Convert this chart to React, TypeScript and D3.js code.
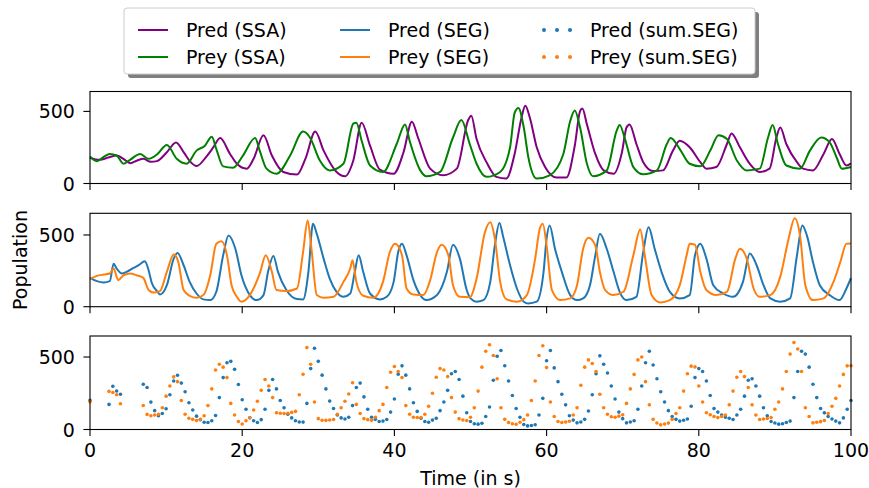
import React from "react";
import * as d3 from "d3";

// ---------------- DATA ----------------
const xTicks = [0, 20, 40, 60, 80, 100];
const yTicks = [0, 500];

const predSSA: [number, number][] = [[0,178],[1.3,164],[2.4,180],[3.5,194],[4.4,170],[5.3,141],[6.2,160],[7.0,171],[8.0,150],[8.8,155],[10.1,217],[11.3,285],[12.3,217],[13.2,150],[14.0,121],[15.3,187],[16.2,250],[17.1,315],[18.4,205],[19.3,137],[20.6,103],[21.5,171],[22.8,335],[23.9,194],[25.4,80],[27.2,62],[28.3,171],[29.6,360],[30.7,228],[32.4,80],[33.5,50],[34.6,160],[35.7,422],[36.8,262],[38.1,96],[39.9,68],[41.2,217],[42.3,429],[43.1,319],[44.7,103],[46.4,57],[48.2,103],[49.7,440],[50.1,470],[50.8,308],[52.1,148],[53.4,46],[54.7,34],[55.8,205],[56.7,456],[57.2,540],[57.8,456],[58.7,251],[59.8,114],[61.3,41],[62.6,41],[63.7,262],[64.4,502],[64.7,520],[65.3,410],[66.4,205],[67.5,91],[68.8,68],[69.9,217],[70.5,388],[70.9,410],[71.8,274],[72.7,148],[74.0,87],[75.3,91],[76.6,228],[77.5,296],[78.8,251],[80.2,148],[81.0,103],[82.3,114],[83.7,274],[84.3,347],[85.4,251],[86.7,137],[88.0,80],[89.3,103],[90.2,319],[90.7,388],[91.5,274],[92.9,148],[93.7,103],[95.0,91],[96.4,205],[97.5,308],[98.5,205],[99.4,125],[100,140]];

const preySSA: [number, number][] = [[0,187],[0.9,155],[1.8,185],[2.6,205],[3.5,194],[4.4,137],[5.3,166],[6.6,205],[7.7,171],[8.8,201],[10.1,267],[11.4,171],[12.7,137],[14.0,228],[15.1,262],[16.0,324],[16.6,239],[17.5,119],[18.8,109],[20.1,194],[21.7,315],[22.3,228],[23.2,103],[24.5,68],[26.3,194],[28.0,360],[28.9,319],[30.2,160],[31.5,91],[33.3,137],[34.6,415],[35.0,422],[35.7,296],[36.8,125],[38.5,80],[40.3,274],[41.4,410],[42.0,296],[43.4,91],[44.2,50],[46.0,80],[47.7,319],[48.8,440],[49.9,274],[50.8,137],[52.1,46],[53.9,80],[55.2,251],[55.8,490],[56.3,524],[57.0,388],[57.6,182],[58.7,34],[60.4,57],[62.2,205],[63.1,433],[63.7,506],[64.4,388],[65.3,137],[66.1,50],[67.9,91],[69.2,365],[69.6,406],[70.3,308],[71.4,114],[72.7,64],[74.5,91],[75.8,274],[76.3,315],[77.5,239],[78.8,137],[80.2,119],[81.5,228],[82.6,335],[83.7,308],[85.0,160],[86.3,91],[88.0,103],[89.1,319],[89.7,406],[90.4,274],[91.5,125],[93.3,103],[94.6,228],[96.1,319],[97.2,285],[98.1,182],[98.8,103],[100,115]];

const predSEG: [number, number][] = [[0,201],[0.9,178],[1.8,169],[2.6,178],[3.1,300],[3.5,266],[4.2,231],[4.8,243],[5.7,270],[6.4,289],[7.2,316],[7.7,254],[8.1,169],[8.8,109],[9.2,85],[10.1,150],[11.0,335],[11.5,374],[12.3,289],[13.1,173],[14.0,92],[14.9,51],[15.8,46],[16.6,104],[17.5,358],[18.2,497],[19.1,404],[19.9,219],[21.0,81],[21.9,46],[22.8,81],[23.4,243],[24.1,353],[24.7,243],[25.8,116],[27.2,53],[28.0,51],[28.7,243],[29.3,578],[29.8,508],[30.7,335],[31.5,196],[32.4,104],[33.3,69],[34.2,92],[34.8,243],[35.3,358],[35.9,243],[36.8,92],[38.1,51],[39.0,69],[39.9,173],[40.5,381],[41.0,439],[41.6,358],[42.5,185],[43.4,81],[44.2,46],[45.6,81],[46.9,243],[47.7,432],[48.6,335],[49.5,116],[50.0,58],[50.8,35],[51.7,46],[52.6,173],[53.2,427],[53.8,584],[54.3,485],[55.2,289],[56.1,127],[57.0,35],[57.6,23],[58.7,35],[59.6,243],[60.0,474],[60.4,566],[61.1,404],[62.0,243],[63.1,81],[64.0,46],[64.8,58],[65.7,150],[66.4,358],[67.0,508],[67.9,404],[68.8,243],[69.6,104],[70.5,46],[71.8,69],[72.7,381],[73.4,554],[74.2,404],[75.1,243],[76.2,104],[77.5,58],[78.8,81],[79.5,358],[80.2,439],[81.0,335],[81.9,150],[83.2,92],[84.5,69],[85.8,173],[86.7,370],[87.6,289],[88.5,150],[89.4,58],[90.7,35],[92.0,58],[92.9,358],[93.6,566],[94.2,497],[95.0,312],[95.9,150],[97.2,81],[98.5,46],[99.4,127],[100,200]];

const preySEG: [number, number][] = [[0,192],[0.9,215],[1.8,224],[2.6,231],[3.1,266],[3.7,185],[4.4,219],[5.3,231],[6.1,219],[7.0,201],[7.7,116],[8.3,99],[9.2,109],[10.1,243],[11.0,363],[11.6,312],[12.3,116],[13.1,76],[14.0,62],[14.9,81],[15.8,219],[16.6,439],[17.3,457],[18.0,358],[18.6,150],[19.3,69],[19.9,35],[21.0,81],[22.3,231],[23.1,358],[23.9,243],[24.5,116],[25.8,109],[27.2,127],[28.0,381],[28.6,601],[29.1,404],[29.8,81],[30.7,62],[32.0,69],[33.3,173],[34.2,266],[34.5,323],[35.0,173],[35.9,76],[37.2,62],[38.5,173],[39.4,381],[40.1,439],[41.0,358],[41.6,127],[42.5,85],[43.8,81],[44.7,185],[45.6,381],[46.2,432],[47.1,358],[47.7,150],[48.6,69],[49.9,66],[50.8,196],[51.9,520],[52.6,589],[53.2,474],[53.9,173],[54.7,53],[56.1,35],[57.4,81],[58.5,335],[59.1,543],[59.5,578],[60.0,427],[60.7,116],[61.8,46],[63.1,58],[64.0,150],[64.8,404],[65.5,480],[66.4,427],[67.0,243],[67.7,116],[68.8,81],[70.1,104],[71.4,358],[72.3,538],[72.9,358],[73.8,81],[74.9,30],[76.2,46],[77.5,150],[78.4,358],[78.8,439],[79.5,432],[80.2,243],[81.0,116],[82.3,81],[83.7,104],[84.8,335],[85.4,404],[86.3,335],[87.2,127],[88.0,69],[89.4,81],[90.7,208],[91.8,474],[92.6,617],[93.3,497],[94.0,150],[95.0,46],[96.4,58],[97.7,173],[98.6,312],[99.4,439],[100,440]];

// sum.SEG samples every 0.5 s (null = no sample drawn)
const predSumSEG: (number | null)[] = [
  201,null,null,null,null,173,298,266,243,null,
  null,null,null,null,312,290,189,130,95,110,
  143,240,335,374,320,260,185,135,92,68,
  50,48,60,97,220,358,460,470,415,310,
  205,140,81,60,48,68,140,270,345,280,
  200,150,105,80,60,52,51,180,420,560,
  470,375,280,196,145,100,80,72,85,165,
  290,320,225,140,85,70,55,58,69,120,
  210,381,439,375,280,185,125,78,55,50,
  65,78,130,190,270,385,400,345,230,116,
  55,40,37,43,90,155,340,505,545,440,
  335,235,145,85,35,25,28,33,100,215,
  474,545,425,330,243,170,95,65,46,52,
  70,128,240,385,508,450,390,300,210,120,
  75,46,52,60,140,300,460,540,445,350,
  260,190,130,90,70,58,64,72,160,358,
  420,400,335,235,145,120,100,85,78,69,
  100,140,230,340,350,300,230,150,95,55,
  45,37,40,48,58,220,400,540,520,430,
  312,220,145,115,90,72,58,46,80,140,
  200,
];
const preySumSEG: (number | null)[] = [
  192,null,null,null,null,263,255,240,178,null,
  null,null,null,null,166,104,95,100,105,150,
  230,300,363,330,200,105,78,70,62,70,
  95,165,280,410,450,430,358,180,100,55,
  38,60,81,135,195,270,345,300,220,116,
  112,110,112,118,125,240,381,565,450,190,
  75,64,63,66,69,105,150,195,245,323,
  173,110,75,68,63,85,130,173,290,395,
  435,400,358,165,105,85,83,82,105,160,
  250,360,420,410,365,220,120,75,66,62,
  85,150,265,430,540,585,510,350,150,70,
  48,40,36,50,68,100,200,335,510,578,
  427,190,90,55,48,52,57,100,150,305,
  430,480,455,400,243,150,105,88,85,92,
  102,180,280,380,480,500,330,170,70,45,
  32,38,44,70,110,150,265,385,437,432,
  300,190,116,102,90,82,90,100,170,265,
  360,400,365,290,170,100,69,72,76,82,
  140,190,280,400,520,600,555,400,150,90,
  46,50,54,62,110,160,215,300,380,439,
  440,
];
const sumStep = 0.5;

const legendLabels = [
  ["Pred (SSA)", "Prey (SSA)"],
  ["Pred (SEG)", "Prey (SEG)"],
  ["Pred (sum.SEG)", "Prey (sum.SEG)"],
];

// ---------------- STYLE / LAYOUT ----------------
const W = 869, H = 488;
const X0 = 90, X1 = 851;
const FONT = "DejaVu Sans";
const FS = 19;
const C_PURPLE = "#800080", C_GREEN = "#008000", C_BLUE = "#1f77b4", C_ORANGE = "#ff7f0e";
const LW = 2;
const panels = [
  { top: 91.5, bottom: 183.5, ymax: 638 },
  { top: 213.3, bottom: 306.7, ymax: 651 },
  { top: 336, bottom: 429.5, ymax: 645 },
];
const TICK = 6.6, PAD = 8.5;

export default function App() {
  const x = d3.scaleLinear().domain([0, 100]).range([X0, X1]);
  const ys = panels.map((p) => d3.scaleLinear().domain([0, p.ymax]).range([p.bottom, p.top]));
  const lineGen = (y: d3.ScaleLinear<number, number>) =>
    d3.line<[number, number]>().x((d) => x(d[0])).y((d) => y(d[1])).curve(d3.curveMonotoneX);

  const sumTimes = predSumSEG.map((_, i) => i * sumStep);

  const axes = panels.map((p, pi) => {
    const y = ys[pi];
    return (
      <g key={"ax" + pi}>
        {xTicks.map((t) => (
          <line key={"xt" + t} x1={x(t)} x2={x(t)} y1={p.bottom} y2={p.bottom + TICK} stroke="black" strokeWidth={1.1} />
        ))}
        {yTicks.map((t) => (
          <g key={"yt" + t}>
            <line x1={X0 - TICK} x2={X0} y1={y(t)} y2={y(t)} stroke="black" strokeWidth={1.1} />
            <text x={X0 - TICK - PAD} y={y(t)} textAnchor="end" dominantBaseline="central" fontSize={FS}>
              {t}
            </text>
          </g>
        ))}
        {pi === 2 &&
          xTicks.map((t) => (
            <text key={"xl" + t} x={x(t)} y={p.bottom + TICK + PAD + 12} textAnchor="middle" fontSize={FS}>
              {t}
            </text>
          ))}
      </g>
    );
  });

  const frames = panels.map((p, pi) => (
    <rect key={"fr" + pi} x={X0} y={p.top} width={X1 - X0} height={p.bottom - p.top} fill="none" stroke="black" strokeWidth={1.1} />
  ));

  const lx = 124, ly = 8, lw = 631, lh = 66;
  const colX = [138, 340, 542];
  const rowY = [30, 57];
  const legendColors = [
    [C_PURPLE, C_GREEN],
    [C_BLUE, C_ORANGE],
    [C_BLUE, C_ORANGE],
  ];

  return (
    <svg width={W} height={H} style={{ position: "absolute", left: 0, top: 0, display: "block" }} fontFamily={FONT}>
      <rect x={0} y={0} width={W} height={H} fill="white" />
      {/* panel 1 */}
      <path d={lineGen(ys[0])(predSSA) || ""} fill="none" stroke={C_PURPLE} strokeWidth={LW} strokeLinejoin="round" />
      <path d={lineGen(ys[0])(preySSA) || ""} fill="none" stroke={C_GREEN} strokeWidth={LW} strokeLinejoin="round" />
      {/* panel 2 */}
      <path d={lineGen(ys[1])(predSEG) || ""} fill="none" stroke={C_BLUE} strokeWidth={LW} strokeLinejoin="round" />
      <path d={lineGen(ys[1])(preySEG) || ""} fill="none" stroke={C_ORANGE} strokeWidth={LW} strokeLinejoin="round" />
      {/* panel 3 */}
      {predSumSEG.map((v, i) =>
        v == null ? null : <circle key={"pd" + i} cx={x(sumTimes[i])} cy={ys[2](v)} r={1.8} fill={C_BLUE} />
      )}
      {preySumSEG.map((v, i) =>
        v == null ? null : <circle key={"py" + i} cx={x(sumTimes[i])} cy={ys[2](v)} r={1.8} fill={C_ORANGE} />
      )}
      {frames}
      {axes}
      <text x={(X0 + X1) / 2} y={485} textAnchor="middle" fontSize={FS}>Time (in s)</text>
      <text transform={`translate(27,${(panels[1].top + panels[1].bottom) / 2}) rotate(-90)`} textAnchor="middle" fontSize={FS}>
        Population
      </text>
      {/* legend */}
      <rect x={lx + 4} y={ly + 4} width={lw} height={lh} fill="#7f7f7f" rx={3} />
      <rect x={lx} y={ly} width={lw} height={lh} fill="white" stroke="#cccccc" strokeWidth={1} rx={3} />
      {legendLabels.map((col, ci) =>
        col.map((lab, ri) => {
          const cx = colX[ci], cy = rowY[ri];
          const color = legendColors[ci][ri];
          return (
            <g key={"lg" + ci + ri}>
              {ci < 2 ? (
                <line x1={cx} x2={cx + 30} y1={cy} y2={cy} stroke={color} strokeWidth={LW} />
              ) : (
                [0, 1, 2].map((k) => <circle key={k} cx={cx + 2 + k * 13} cy={cy} r={2} fill={color} />)
              )}
              <text x={cx + 48} y={cy} dominantBaseline="central" fontSize={FS}>
                {lab}
              </text>
            </g>
          );
        })
      )}
    </svg>
  );
}
